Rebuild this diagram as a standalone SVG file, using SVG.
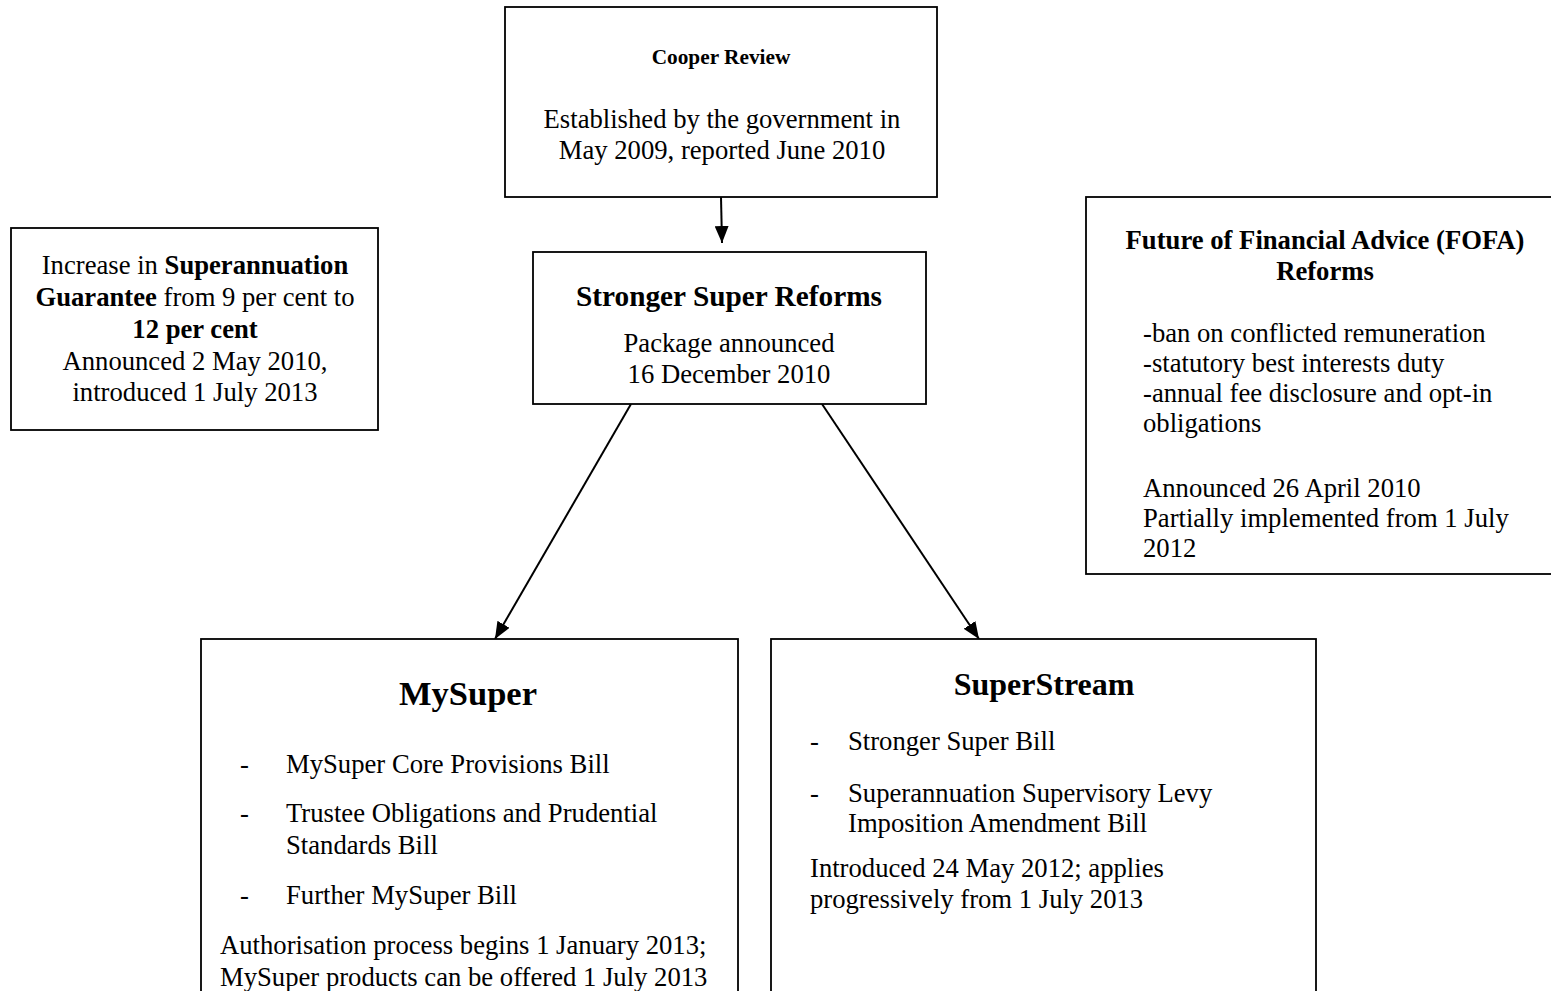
<svg xmlns="http://www.w3.org/2000/svg" width="1551" height="991" viewBox="0 0 1551 991">
<defs>
<style>
.box{fill:#fff;stroke:#000;stroke-width:1.8}
text{font-family:"Liberation Serif","Times New Roman",serif;fill:#000}
.b{font-size:26.67px}
.h{font-weight:bold}
.c{text-anchor:middle}
.con{stroke:#000;stroke-width:2;fill:none}
</style>
<marker id="ah" markerUnits="userSpaceOnUse" markerWidth="18" markerHeight="14" refX="17" refY="7" orient="auto">
<path d="M0,0 L17,7 L0,14 z" fill="#000"/>
</marker>
</defs>
<rect width="1551" height="991" fill="#fff"/>
<g id="connectors">
<line class="con" x1="721" y1="197" x2="722" y2="243" marker-end="url(#ah)"/>
<line class="con" x1="631" y1="404" x2="495" y2="639" marker-end="url(#ah)"/>
<line class="con" x1="822" y1="404" x2="979" y2="639" marker-end="url(#ah)"/>
</g>
<g id="cooper">
<rect class="box" x="505" y="7" width="432" height="190"/>
<text class="c h" x="721" y="64" font-size="21.3">Cooper Review</text>
<text class="c b" x="722" y="128">Established by the government in</text>
<text class="c b" x="722" y="159">May 2009, reported June 2010</text>
</g>
<g id="stronger">
<rect class="box" x="533" y="252" width="393" height="152"/>
<text class="c h" x="729" y="306" font-size="29.3">Stronger Super Reforms</text>
<text class="c b" x="729" y="352">Package announced</text>
<text class="c b" x="729" y="383">16 December 2010</text>
</g>
<g id="sg">
<rect class="box" x="11" y="228" width="367" height="202"/>
<text class="c b" x="195" y="274">Increase in <tspan class="h">Superannuation</tspan></text>
<text class="c b" x="195" y="306"><tspan class="h">Guarantee</tspan> from 9 per cent to</text>
<text class="c b h" x="195" y="338">12 per cent</text>
<text class="c b" x="195" y="370">Announced 2 May 2010,</text>
<text class="c b" x="195" y="401">introduced 1 July 2013</text>
</g>
<g id="fofa">
<rect class="box" x="1086" y="197" width="480" height="377"/>
<text class="c b h" x="1325" y="249">Future of Financial Advice (FOFA)</text>
<text class="c b h" x="1325" y="280">Reforms</text>
<text class="b" x="1143" y="342">-ban on conflicted remuneration</text>
<text class="b" x="1143" y="372">-statutory best interests duty</text>
<text class="b" x="1143" y="402">-annual fee disclosure and opt-in</text>
<text class="b" x="1143" y="432">obligations</text>
<text class="b" x="1143" y="497">Announced 26 April 2010</text>
<text class="b" x="1143" y="527">Partially implemented from 1 July</text>
<text class="b" x="1143" y="557">2012</text>
</g>
<g id="mysuper">
<rect class="box" x="201" y="639" width="537" height="360"/>
<text class="c h" x="468" y="705" font-size="34.5">MySuper</text>
<text class="b" x="240" y="773">-</text>
<text class="b" x="286" y="773">MySuper Core Provisions Bill</text>
<text class="b" x="240" y="822">-</text>
<text class="b" x="286" y="822">Trustee Obligations and Prudential</text>
<text class="b" x="286" y="854">Standards Bill</text>
<text class="b" x="240" y="904">-</text>
<text class="b" x="286" y="904">Further MySuper Bill</text>
<text class="b" x="220" y="954">Authorisation process begins 1 January 2013;</text>
<text class="b" x="220" y="986">MySuper products can be offered 1 July 2013</text>
</g>
<g id="superstream">
<rect class="box" x="771" y="639" width="545" height="360"/>
<text class="c h" x="1044" y="695" font-size="32">SuperStream</text>
<text x="810" y="750" font-size="26.67" font-family="Liberation Sans, Arial, sans-serif">-</text>
<text class="b" x="848" y="750">Stronger Super Bill</text>
<text x="810" y="802" font-size="26.67" font-family="Liberation Sans, Arial, sans-serif">-</text>
<text class="b" x="848" y="802">Superannuation Supervisory Levy</text>
<text class="b" x="848" y="832">Imposition Amendment Bill</text>
<text class="b" x="810" y="877">Introduced 24 May 2012; applies</text>
<text class="b" x="810" y="908">progressively from 1 July 2013</text>
</g>
</svg>
